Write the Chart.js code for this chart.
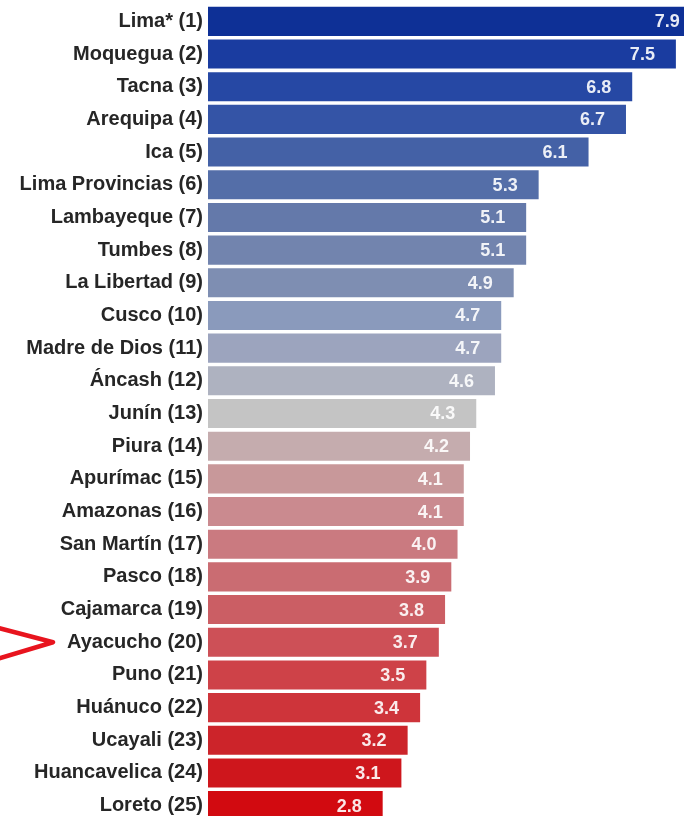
<!DOCTYPE html>
<html>
<head>
<meta charset="utf-8">
<script src="https://cdn.jsdelivr.net/npm/chart.js@4/dist/chart.umd.min.js"></script>
<style>
  html, body { margin: 0; padding: 0; background: #fff; overflow: hidden; }
  #wrap { width: 684px; height: 822px; position: relative; }
</style>
</head>
<body>
<div id="wrap"><canvas id="chart"></canvas></div>
<script>
// Regiones y valores
const regions = [
    'Lima* (1)', 'Moquegua (2)', 'Tacna (3)', 'Arequipa (4)', 'Ica (5)',
    'Lima Provincias (6)', 'Lambayeque (7)', 'Tumbes (8)', 'La Libertad (9)', 'Cusco (10)',
    'Madre de Dios (11)', 'Áncash (12)', 'Junín (13)', 'Piura (14)', 'Apurímac (15)',
    'Amazonas (16)', 'San Martín (17)', 'Pasco (18)', 'Cajamarca (19)', 'Ayacucho (20)',
    'Puno (21)', 'Huánuco (22)', 'Ucayali (23)', 'Huancavelica (24)', 'Loreto (25)'
];
const values = [
    7.9, 7.5, 6.8, 6.7, 6.1,
    5.3, 5.1, 5.1, 4.9, 4.7,
    4.7, 4.6, 4.3, 4.2, 4.1,
    4.1, 4.0, 3.9, 3.8, 3.7,
    3.5, 3.4, 3.2, 3.1, 2.8
];

// bar colours, blue -> grey -> red
const barColors = [
    'rgb(14,48,150)', 'rgb(26,60,160)', 'rgb(38,72,164)', 'rgb(52,84,166)', 'rgb(68,97,166)',
    'rgb(84,110,168)', 'rgb(100,121,170)', 'rgb(114,132,174)', 'rgb(126,142,178)', 'rgb(138,154,188)',
    'rgb(156,164,190)', 'rgb(174,178,192)', 'rgb(196,196,196)', 'rgb(197,172,174)', 'rgb(200,152,154)',
    'rgb(202,138,143)', 'rgb(202,122,128)', 'rgb(202,108,114)', 'rgb(203,94,100)', 'rgb(205,80,87)',
    'rgb(206,66,72)', 'rgb(206,52,58)', 'rgb(204,36,42)', 'rgb(206,22,28)', 'rgb(210,10,16)'
];

// white value labels near the end of each bar
const valueLabels = {
    id: 'valueLabels',
    afterDatasetsDraw(chart) {
        const c = chart.ctx;
        const area = chart.chartArea;
        const meta = chart.getDatasetMeta(0);
        c.save();
        c.font = "bold 18px 'Liberation Sans', Arial, sans-serif";
        c.textAlign = 'right';
        c.textBaseline = 'middle';
        c.fillStyle = 'rgba(255,255,255,0.9)';
        meta.data.forEach(function (bar, i) {
            const x = Math.min(bar.x - 21, area.right - 2);
            c.fillText(values[i].toFixed(1), x, bar.y + 1);
        });
        c.restore();
    }
};

// red arrow pointing at Ayacucho
const arrow = {
    id: 'arrow',
    afterDraw(chart) {
        const c = chart.ctx;
        const y = chart.scales.y.getPixelForValue(19);
        c.save();
        c.strokeStyle = '#e8141e';
        c.lineWidth = 4.5;
        c.lineJoin = 'round';
        c.beginPath();
        c.moveTo(-4, y - 15);
        c.lineTo(53, y);
        c.lineTo(-4, y + 17);
        c.stroke();
        c.restore();
    }
};

new Chart(document.getElementById('chart'), {
    type: 'bar',
    data: {
        labels: regions,
        datasets: [{
            data: values,
            backgroundColor: barColors,
            borderWidth: 0,
            barPercentage: 0.89,
            categoryPercentage: 1.0
        }]
    },
    options: {
        indexAxis: 'y',
        responsive: true,
        maintainAspectRatio: false,
        animation: false,
        layout: { padding: { top: 5, left: 0, right: 0, bottom: 0 } },
        plugins: {
            legend: { display: false },
            tooltip: { enabled: false }
        },
        scales: {
            x: {
                display: false,
                min: 0,
                max: 7.63
            },
            y: {
                grid: { display: false, drawTicks: false },
                border: { display: false },
                ticks: {
                    padding: 5,
                    color: '#262626',
                    font: { family: "'Liberation Sans', Arial, sans-serif", size: 20, weight: 'bold' }
                },
                afterFit(scale) {
                    scale.width = 208;
                    scale.paddingTop = 0;
                    scale.paddingBottom = 0;
                }
            }
        }
    },
    plugins: [valueLabels, arrow]
});
</script>
</body>
</html>
